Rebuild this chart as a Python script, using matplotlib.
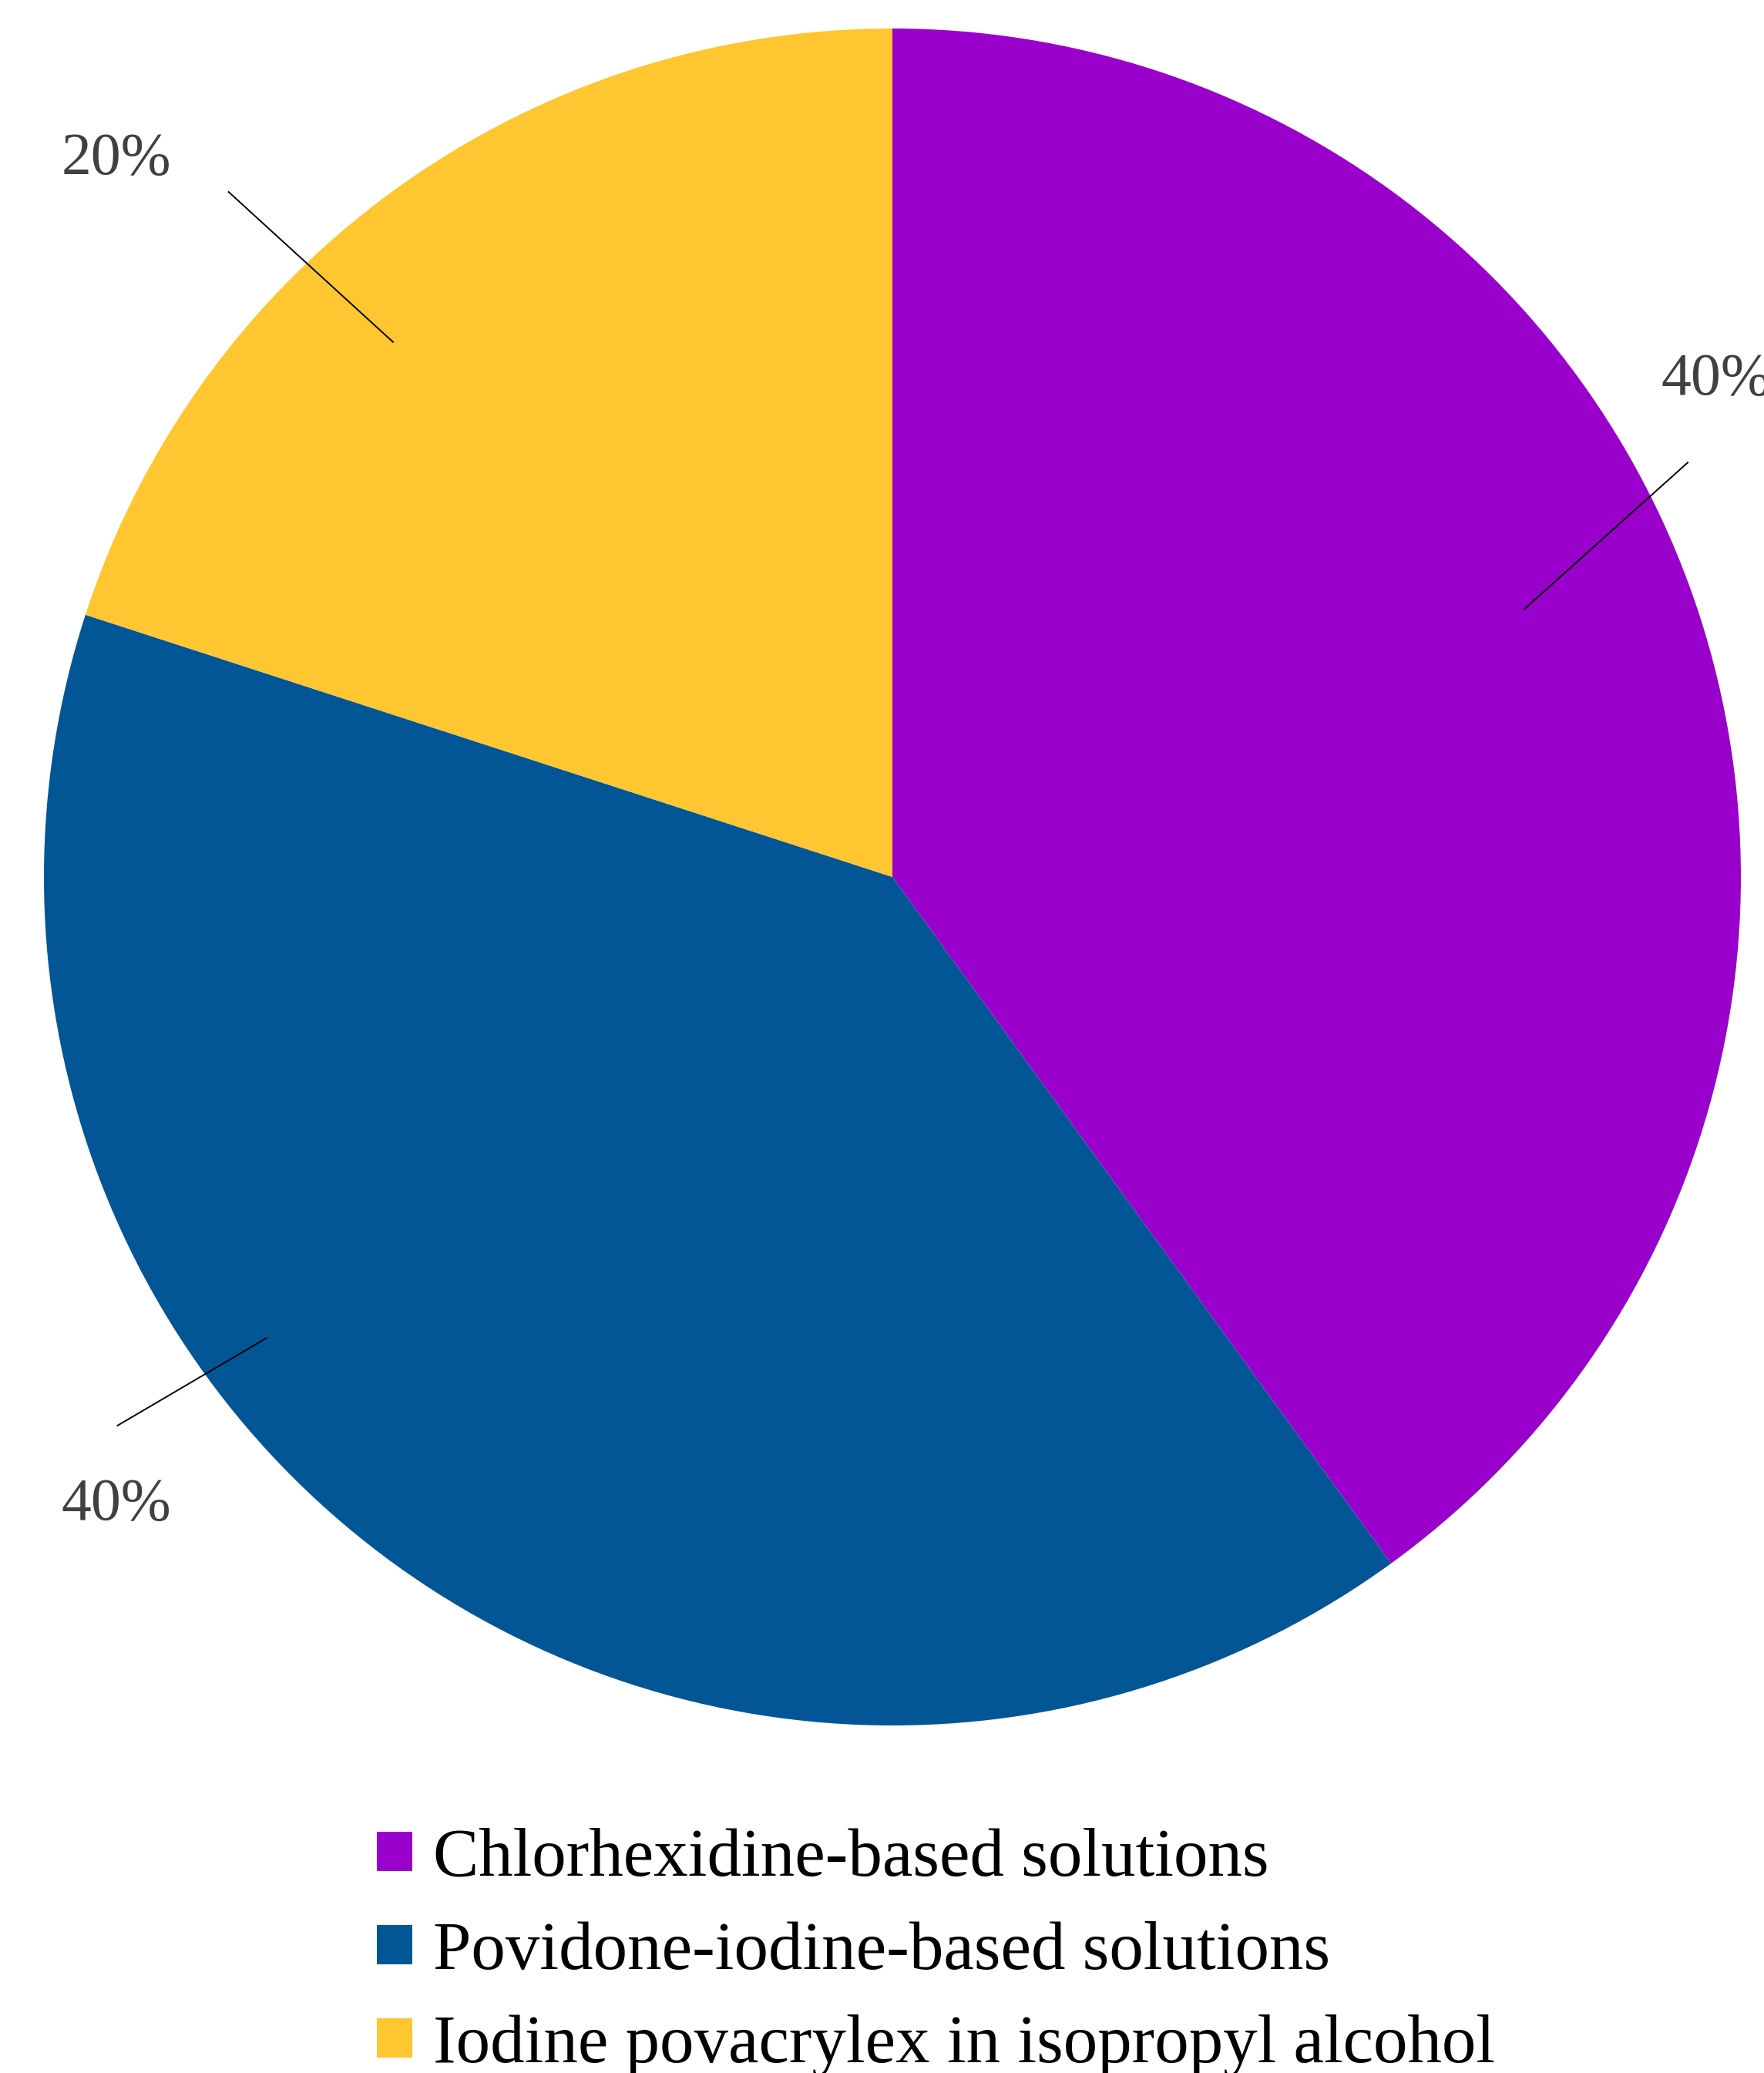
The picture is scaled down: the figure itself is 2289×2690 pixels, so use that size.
import matplotlib
matplotlib.use("Agg")
import matplotlib.pyplot as plt
from matplotlib.patches import Patch

categories = [
    "Chlorhexidine-based solutions",
    "Povidone-iodine-based solutions",
    "Iodine povacrylex in isopropyl alcohol",
]
shares = [40, 40, 20]
colors = ["#9A00CB", "#025696", "#FEC631"]

# label layout (data units, pie radius = 1): text anchor, leader start, leader end
label_text_xy = [(0.906, 0.586), (-0.915, -0.740), (-0.915, 0.845)]
label_ha = ["left", "center", "center"]
leader_lines = [
    ((0.744, 0.315), (0.938, 0.489)),
    ((-0.737, -0.543), (-0.914, -0.647)),
    ((-0.588, 0.630), (-0.783, 0.808)),
]

W, H = 2289, 2690
fig = plt.figure(figsize=(W / 100, H / 100), dpi=100)
cx, cy, r = 1158, 1138, 1101
ax = fig.add_axes([(cx - r) / W, (H - cy - r) / H, 2 * r / W, 2 * r / H])

ax.pie(shares, colors=colors, startangle=90, counterclock=False, radius=1,
       wedgeprops=dict(linewidth=0))
ax.set_xlim(-1, 1)
ax.set_ylim(-1, 1)
ax.set_aspect("equal")
ax.axis("off")

font = "Liberation Serif"
for val, (tx, ty), ha, (p0, p1) in zip(shares, label_text_xy, label_ha, leader_lines):
    ax.plot([p0[0], p1[0]], [p0[1], p1[1]], color="black", lw=1.4,
            clip_on=False, solid_capstyle="butt")
    ax.text(tx, ty, f"{val}%", ha=ha, va="center", fontsize=56,
            color="#404040", family=font, clip_on=False)

handles = [Patch(facecolor=c, edgecolor="none", label=l) for c, l in zip(colors, categories)]
fig.legend(handles=handles, loc="upper left", bbox_to_anchor=(489 / W, 1 - 2372 / H),
           frameon=False, prop=dict(family=font, size=64),
           handlelength=0.52, handleheight=0.52, handletextpad=0.3,
           labelspacing=0.45, borderaxespad=0, borderpad=0)

fig.savefig("out.png", dpi=100)
